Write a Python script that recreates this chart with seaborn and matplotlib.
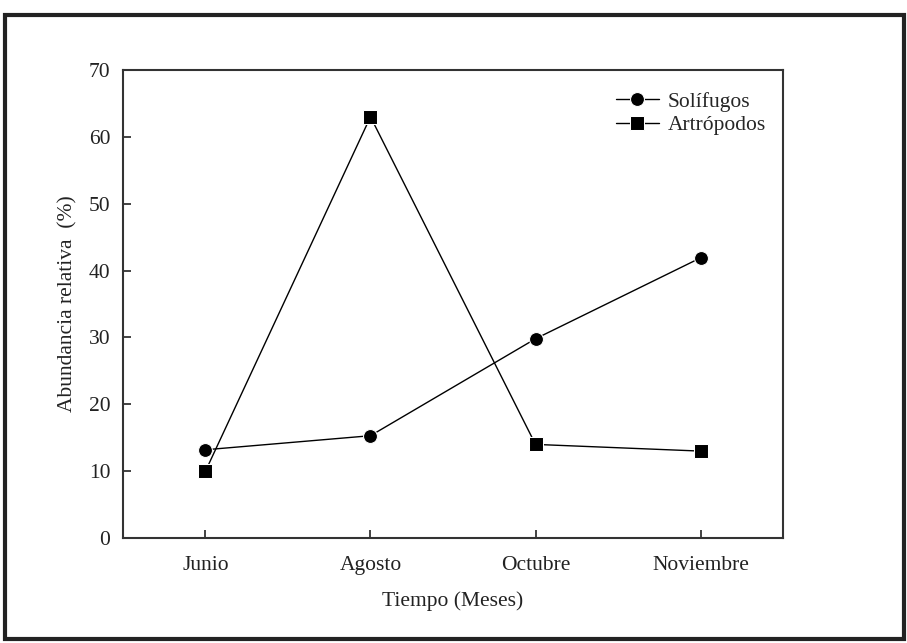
import matplotlib
matplotlib.use("Agg")
import matplotlib.pyplot as plt
import seaborn as sns
import pandas as pd
from matplotlib.patches import Rectangle

months = ["Junio", "Agosto", "Octubre", "Noviembre"]
solifugos = [13.2, 15.3, 29.8, 41.9]
artropodos = [10.0, 63.0, 14.0, 13.0]
yticks = [0, 10, 20, 30, 40, 50, 60, 70]

sns.set_theme(style="white")
plt.rcParams["font.family"] = ["Liberation Serif", "DejaVu Serif"]

df = pd.DataFrame({
    "x": list(range(len(months))) * 2,
    "y": solifugos + artropodos,
    "serie": ["Solífugos"] * len(months) + ["Artrópodos"] * len(months),
})

fig = plt.figure(figsize=(9.07, 6.43), dpi=100)
ax = fig.add_axes([0.1356, 0.1633, 0.7277, 0.7278])

sns.lineplot(data=df, x="x", y="y", hue="serie", style="serie",
             markers={"Solífugos": "o", "Artrópodos": "s"},
             dashes=False, palette={"Solífugos": "black", "Artrópodos": "black"},
             markersize=10, linewidth=1.0, ax=ax, legend=True)

ax.set_xlim(-0.5, 3.5)
ax.set_ylim(0, 70)
ax.set_xticks(range(len(months)))
ax.set_xticklabels(months, fontsize=15.5)
ax.set_yticks(yticks)
ax.set_yticklabels([str(v) for v in yticks], fontsize=15.5)
ax.tick_params(bottom=True, left=True, direction="in", length=6, width=1.2,
               colors="#222222", pad=9)
ax.tick_params(axis="x", pad=13)
for s in ax.spines.values():
    s.set_color("#333333")
    s.set_linewidth(1.5)
    s.set_visible(True)
ax.set_xlabel("Tiempo (Meses)", fontsize=15.5, labelpad=12, color="#222222")
ax.set_ylabel("Abundancia relativa  (%)", fontsize=15.5, labelpad=8, color="#222222")

leg = ax.legend(loc="upper right", bbox_to_anchor=(1.003, 0.995), frameon=False,
                fontsize=15.5, handlelength=2.0, handletextpad=0.4, labelspacing=0.15,
                markerscale=1.0)

fig.patches.append(Rectangle((0.006, 0.006), 0.991, 0.97, transform=fig.transFigure,
                             fill=False, edgecolor="#222222", linewidth=3))

fig.savefig("out.png", dpi=100)
